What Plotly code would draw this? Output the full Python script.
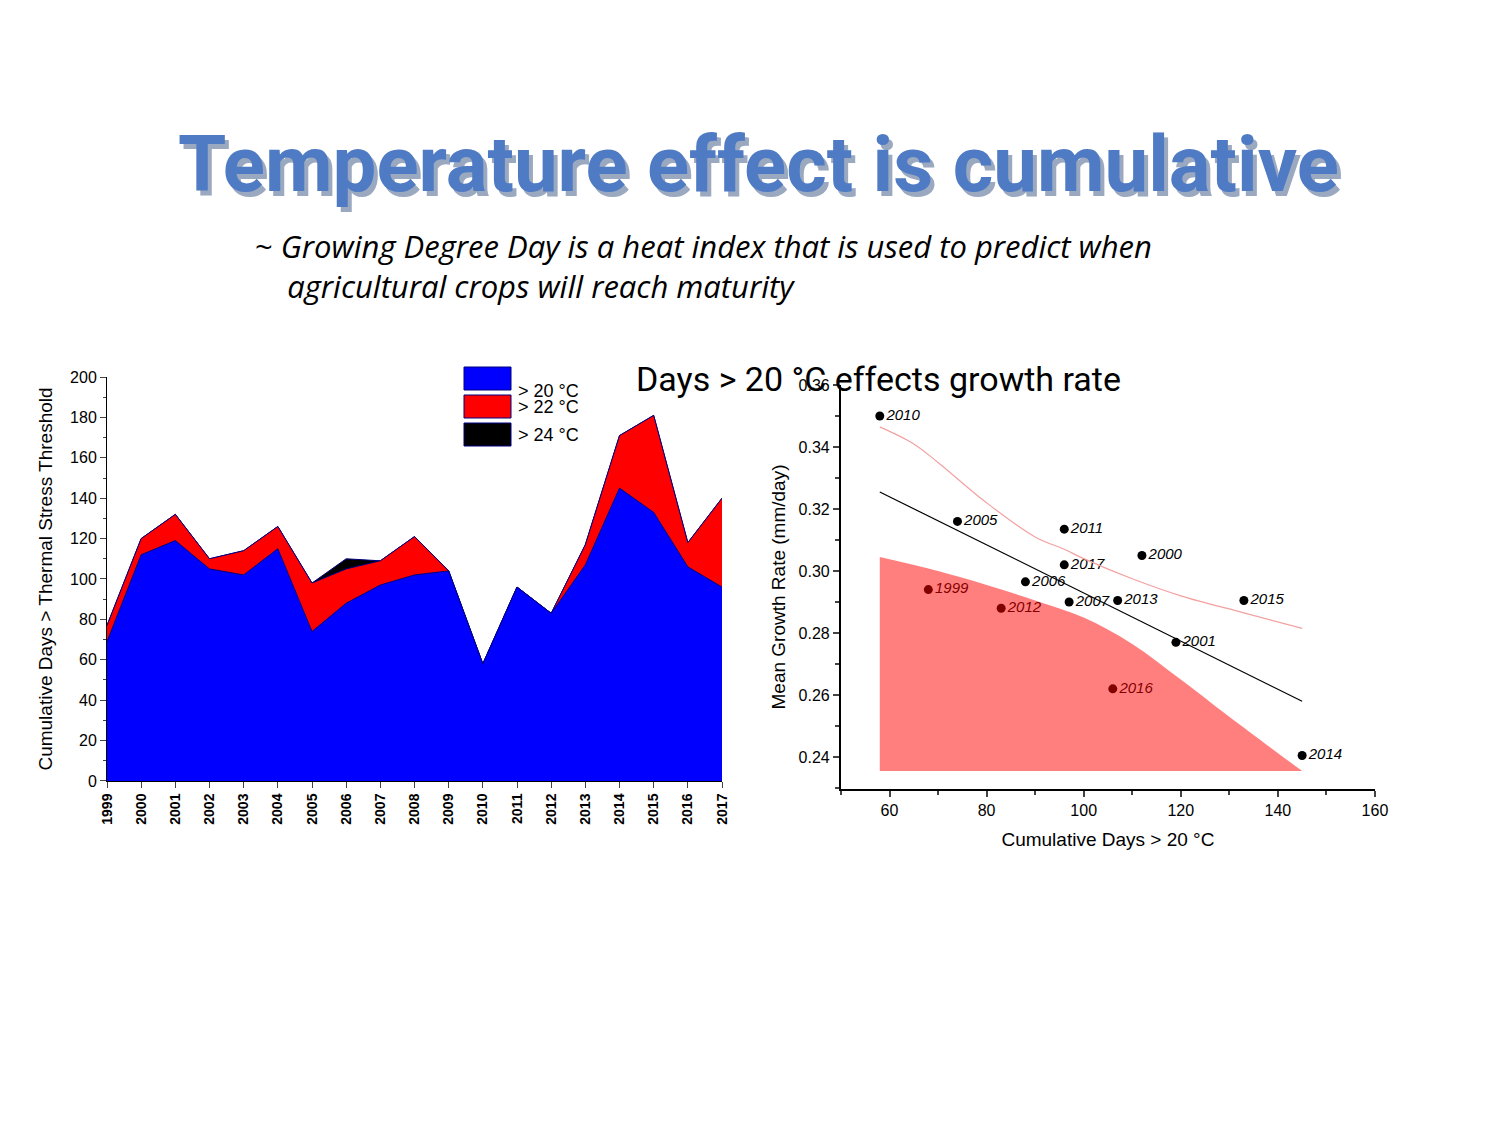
import plotly.graph_objects as go

years = [str(y) for y in range(1999, 2018)]
above20 = [69, 112, 119, 105, 102, 115, 74, 88, 97, 102, 104, 58, 96, 83, 107, 145, 133, 106, 96]
above22 = [77, 120, 132, 110, 114, 126, 98, 105, 109, 121, 104, 58, 96, 83, 117, 171, 181, 118, 140]
above24 = [77, 120, 132, 110, 114, 126, 98, 110, 109, 121, 104, 58, 96, 83, 117, 171, 181, 118, 140]

pt_year = ["2010", "2005", "2011", "2000", "2017", "2006", "1999", "2007", "2013", "2015", "2012", "2001", "2016", "2014"]
pt_days = [58, 74, 96, 112, 96, 88, 68, 97, 107, 133, 83, 119, 106, 145]
pt_rate = [0.350, 0.316, 0.3135, 0.305, 0.302, 0.2965, 0.294, 0.290, 0.2905, 0.2905, 0.288, 0.277, 0.262, 0.2405]

fit_x = [58, 145]
fit_y = [0.3255, 0.258]
upper_x = [58, 65, 70, 80, 90, 96, 100, 110, 120, 133, 145]
upper_y = [0.3465, 0.341, 0.335, 0.322, 0.311, 0.307, 0.304, 0.2975, 0.292, 0.2865, 0.2815]
band_x = [58, 70, 80, 90, 100, 110, 120, 130, 145]
band_y = [0.3045, 0.300, 0.2955, 0.2905, 0.285, 0.2765, 0.265, 0.253, 0.2355]
band_floor = 0.2355

font = "Liberation Sans, Arial, sans-serif"
fig = go.Figure()

for vals, col in [(above24, "#000000"), (above22, "#FF0000"), (above20, "#0000FF")]:
    fig.add_trace(go.Scatter(x=years, y=vals, mode="lines", fill="tozeroy",
                             line=dict(color="#000080", width=1), fillcolor=col,
                             xaxis="x", yaxis="y", showlegend=False, hoverinfo="skip"))

fig.add_trace(go.Scatter(x=pt_days, y=pt_rate, mode="markers+text",
                         text=["<i>" + t + "</i>" for t in pt_year], textposition="middle right",
                         textfont=dict(family=font, size=15, color="black"),
                         marker=dict(color="black", size=9),
                         xaxis="x2", yaxis="y2", showlegend=False))
fig.add_trace(go.Scatter(x=fit_x, y=fit_y, mode="lines", line=dict(color="black", width=1.2),
                         xaxis="x2", yaxis="y2", showlegend=False))
fig.add_trace(go.Scatter(x=upper_x, y=upper_y, mode="lines", line=dict(color="#F4A0A0", width=1.2, shape="spline"),
                         xaxis="x2", yaxis="y2", showlegend=False))
fig.add_trace(go.Scatter(x=band_x + band_x[::-1], y=band_y + [band_floor] * len(band_x),
                         mode="lines", line=dict(width=0, shape="spline"), fill="toself",
                         fillcolor="rgba(255,0,0,0.5)", xaxis="x2", yaxis="y2", showlegend=False))

fig.update_layout(
    width=1500, height=1125, margin=dict(l=0, r=0, t=0, b=0),
    paper_bgcolor="white", plot_bgcolor="white",
    xaxis=dict(domain=[0.066, 0.476], anchor="y", type="category", range=[0, 18], automargin=False,
               tickangle=-90, tickfont=dict(family=font, size=14, color="black", weight="bold"),
               ticks="outside", ticklen=6, showline=True, linecolor="black", showgrid=False),
    yaxis=dict(domain=[0.3129, 0.672], anchor="x", range=[0, 200], dtick=20, automargin=False,
               tickfont=dict(family=font, size=16, color="black"),
               ticks="outside", ticklen=6, minor=dict(ticks="outside", ticklen=3, dtick=10),
               showline=True, linecolor="black", showgrid=False, zeroline=False,
               title=dict(text="Cumulative Days > Thermal Stress Threshold", font=dict(family=font, size=19, color="black"), standoff=12)),
    xaxis2=dict(domain=[0.5553, 0.9113], anchor="y2", range=[50, 160], dtick=20, automargin=False,
                tickfont=dict(family=font, size=16, color="black"),
                ticks="outside", ticklen=6, tickwidth=2, minor=dict(ticks="outside", ticklen=4, dtick=10),
                showline=True, linecolor="black", linewidth=2, showgrid=False, zeroline=False,
                title=dict(text="Cumulative Days > 20 °C", font=dict(family=font, size=19, color="black"))),
    yaxis2=dict(domain=[0.3058, 0.6649], anchor="x2", range=[0.2297, 0.36], dtick=0.02, tickformat=".2f",
                automargin=False, tickfont=dict(family=font, size=16, color="black"),
                ticks="outside", ticklen=6, tickwidth=2, minor=dict(ticks="outside", ticklen=4, dtick=0.01),
                showline=True, linecolor="black", linewidth=2, showgrid=False, zeroline=False,
                title=dict(text="Mean Growth Rate (mm/day)", font=dict(family=font, size=19, color="black"), standoff=8)),
)

# title and subtitle
title_font = "Liberation Sans Narrow, Roboto, sans-serif"
fig.add_annotation(x=0.503, y=0.899, xref="paper", yref="paper", showarrow=False,
                   text="<b>Temperature effect is cumulative</b>",
                   font=dict(family=title_font, size=78, color="#9BA9C0"))
fig.add_annotation(x=0.5, y=0.903, xref="paper", yref="paper", showarrow=False,
                   text="<b>Temperature effect is cumulative</b>",
                   font=dict(family=title_font, size=78, color="#4F7BC4"))
fig.add_annotation(x=0.163, y=0.809, xref="paper", yref="paper", showarrow=False, xanchor="left", align="left",
                   text="~ <i>Growing Degree Day is a heat index that is used to predict when</i><br>    <i>agricultural crops will reach maturity</i>",
                   font=dict(family="Open Sans, sans-serif", size=31, color="black"))
fig.add_annotation(x=0.743, y=0.69, xref="paper", yref="paper", showarrow=False,
                   text="Days > 20 °C effects growth rate",
                   font=dict(family=title_font, size=34, color="black"))

# legend boxes
legend_items = [("> 20 °C", "#0000FF"), ("> 22 °C", "#FF0000"), ("> 24 °C", "#000000")]
for i, (lbl, col) in enumerate(legend_items):
    top = 359 + i * 28
    fig.add_shape(type="rect", xref="paper", yref="paper",
                  x0=456 / 1500, x1=503 / 1500, y0=1 - (top + 23) / 1125, y1=1 - top / 1125,
                  fillcolor=col, line=dict(color="#000080", width=1))
    fig.add_annotation(x=508 / 1500, y=1 - (top + 12) / 1125, xref="paper", yref="paper",
                       showarrow=False, xanchor="left", text=lbl,
                       font=dict(family=font, size=18, color="black"))

fig.write_html("out.html")
